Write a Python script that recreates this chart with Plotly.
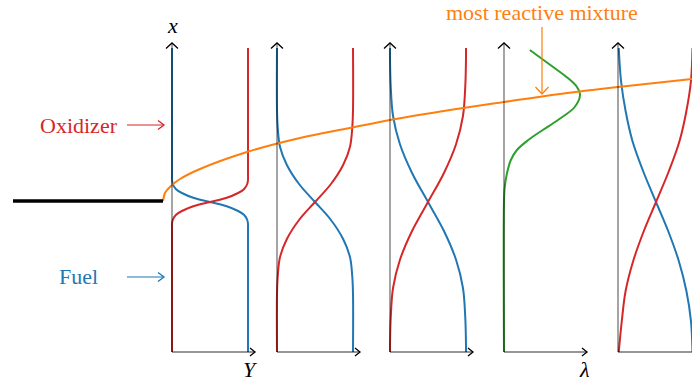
import plotly.graph_objects as go

# -----------------------------
# Profiles
# eta = transverse coordinate (splitter plate at eta = 0)
# Y = mass fraction (0..1), lambda = reaction rate (0..1)
# -----------------------------
ETA_1 = [-151, -28, -23, -19, -14, -10, -5, -1, 3, 8, 12, 17, 21, 27, 153]
YO_1 = [0.00, 0.00, 0.00, 0.01, 0.05, 0.13, 0.29, 0.50, 0.71, 0.87, 0.95, 0.99, 1.00, 1.00, 1.00]
YF_1 = [1.00, 1.00, 1.00, 0.99, 0.95, 0.87, 0.71, 0.50, 0.29, 0.13, 0.05, 0.01, 0.00, 0.00, 0.00]

ETA_2 = [-151, -93, -75, -56, -38, -19, -1, 17, 36, 54, 73, 91, 153]
YO_2 = [0.00, 0.00, 0.01, 0.04, 0.13, 0.29, 0.50, 0.71, 0.87, 0.96, 0.99, 1.00, 1.00]
YF_2 = [1.00, 1.00, 0.99, 0.96, 0.87, 0.71, 0.50, 0.29, 0.13, 0.04, 0.01, 0.00, 0.00]

ETA_3 = [-151, -145, -116, -87, -59, -30, -1, 28, 57, 85, 114, 143, 153]
YO_3 = [0.00, 0.00, 0.01, 0.04, 0.13, 0.29, 0.50, 0.71, 0.87, 0.96, 0.99, 1.00, 1.00]
YF_3 = [1.00, 1.00, 0.99, 0.96, 0.87, 0.71, 0.50, 0.29, 0.13, 0.04, 0.01, 0.00, 0.00]

ETA_5 = [-151, -120, -90, -60, -30, -1, 30, 60, 90, 120, 153]
YO_5 = [0.01, 0.05, 0.10, 0.20, 0.34, 0.50, 0.67, 0.81, 0.90, 0.96, 0.98]
YF_5 = [0.98, 0.96, 0.90, 0.80, 0.66, 0.50, 0.33, 0.19, 0.10, 0.04, 0.01]

ETA_LAM = [151, 136, 123, 114, 106, 94, 81, 71, 61, 51, 41, 28, 14, 0, -151]
LAM = [0.34, 0.61, 0.84, 0.96, 1.00, 0.93, 0.71, 0.51, 0.32, 0.17, 0.09, 0.04, 0.01, 0.00, 0.00]

# most reactive mixture line (streamwise position, eta)
FLAME_X = [163, 165, 168, 172, 180, 200, 247, 300, 350, 390, 450, 504, 560, 618, 692]
FLAME_ETA = [0, 8, 12, 16, 22, 32, 49, 63, 73, 81, 91, 99, 107, 114, 122]

# -----------------------------
# Layout constants
# -----------------------------
STATIONS = [172, 277, 390, 504, 618]
SCALE = 76          # px for Y = 1
ETA_BOT, ETA_TOP = -151, 158
PLATE_X0 = 13

RED, BLUE, ORANGE, GREEN = '#d62728', '#1f77b4', '#ff7f0e', '#2ca02c'
AXIS = 'rgba(0,0,0,0.55)'
FONT = "'Liberation Serif', 'DejaVu Serif', 'Times New Roman', serif"

fig = go.Figure()


def line(x, y, color, width=2.0, shape='linear'):
    fig.add_trace(go.Scatter(x=x, y=y, mode='lines', hoverinfo='skip',
                             line=dict(color=color, width=width, shape=shape),
                             showlegend=False))


def chevron(tx, ty, direction, color, back=5.5, half=6):
    if direction == 'up':
        xs, ys = [tx - half, tx, tx + half], [ty - back, ty, ty - back]
    elif direction == 'down':
        xs, ys = [tx - half, tx, tx + half], [ty + back, ty, ty + back]
    else:
        xs, ys = [tx - back, tx, tx - back], [ty + half, ty, ty - half]
    line(xs, ys, color, width=1.3)


# profiles
profiles = [(ETA_1, YO_1, YF_1), (ETA_2, YO_2, YF_2), (ETA_3, YO_3, YF_3), None, (ETA_5, YO_5, YF_5)]
for x0, prof in zip(STATIONS, profiles):
    if prof is None:
        line([x0 + SCALE * v for v in LAM], ETA_LAM, GREEN, shape='spline')
        continue
    eta, yo, yf = prof
    line([x0 + SCALE * v for v in yf], eta, BLUE, shape='spline')
    line([x0 + SCALE * v for v in yo], eta, RED, shape='spline')

# most reactive mixture
line(FLAME_X, FLAME_ETA, ORANGE, shape='spline')

# splitter plate
line([PLATE_X0, FLAME_X[0]], [0, 0], 'black', width=3.5)

# axes on top
for x0 in STATIONS:
    line([x0, x0], [ETA_BOT, ETA_TOP], AXIS, width=1.3)
    chevron(x0, ETA_TOP, 'up', 'black')
    line([x0, x0 + 83], [ETA_BOT, ETA_BOT], AXIS, width=1.3)
    chevron(x0 + 83, ETA_BOT, 'right', 'black', back=5, half=4)

# inflow arrows
line([127, 164], [76, 76], RED, width=1.2)
chevron(164, 76, 'right', RED, back=6, half=4.5)
line([127, 164], [-76, -76], BLUE, width=1.2)
chevron(164, -76, 'right', BLUE, back=6, half=4.5)

# most reactive mixture pointer
line([542, 542], [174, 107], ORANGE, width=1.2)
chevron(542, 107, 'down', ORANGE, back=7, half=6.5)

annotations = [
    dict(x=120, y=76, text='Oxidizer', xanchor='right', font_color=RED),
    dict(x=100, y=-75, text='Fuel', xanchor='right', font_color=BLUE),
    dict(x=542, y=189, text='most reactive mixture', xanchor='center', font_color=ORANGE),
    dict(x=172, y=176, text='<i>x</i>', xanchor='center', font_color='black'),
    dict(x=250, y=-168, text='<i>Y</i>', xanchor='center', font_color='black'),
    dict(x=584, y=-168, text='<i>λ</i>', xanchor='center', font_color='black'),
]
for a in annotations:
    color = a.pop('font_color')
    fig.add_annotation(**a, xref='x', yref='y', yanchor='middle', showarrow=False,
                       font=dict(family=FONT, size=22, color=color))

fig.update_layout(
    width=692, height=384,
    margin=dict(l=0, r=0, t=0, b=0),
    plot_bgcolor='white', paper_bgcolor='white',
    xaxis=dict(range=[0, 692], visible=False, fixedrange=True),
    yaxis=dict(range=[-183, 201], visible=False, fixedrange=True),
    showlegend=False,
)

# page body has a default 8px margin; drop it so the figure sits at the corner
fig.write_html("out.html", config={'staticPlot': True},
               post_script="document.body.style.margin='0';")
